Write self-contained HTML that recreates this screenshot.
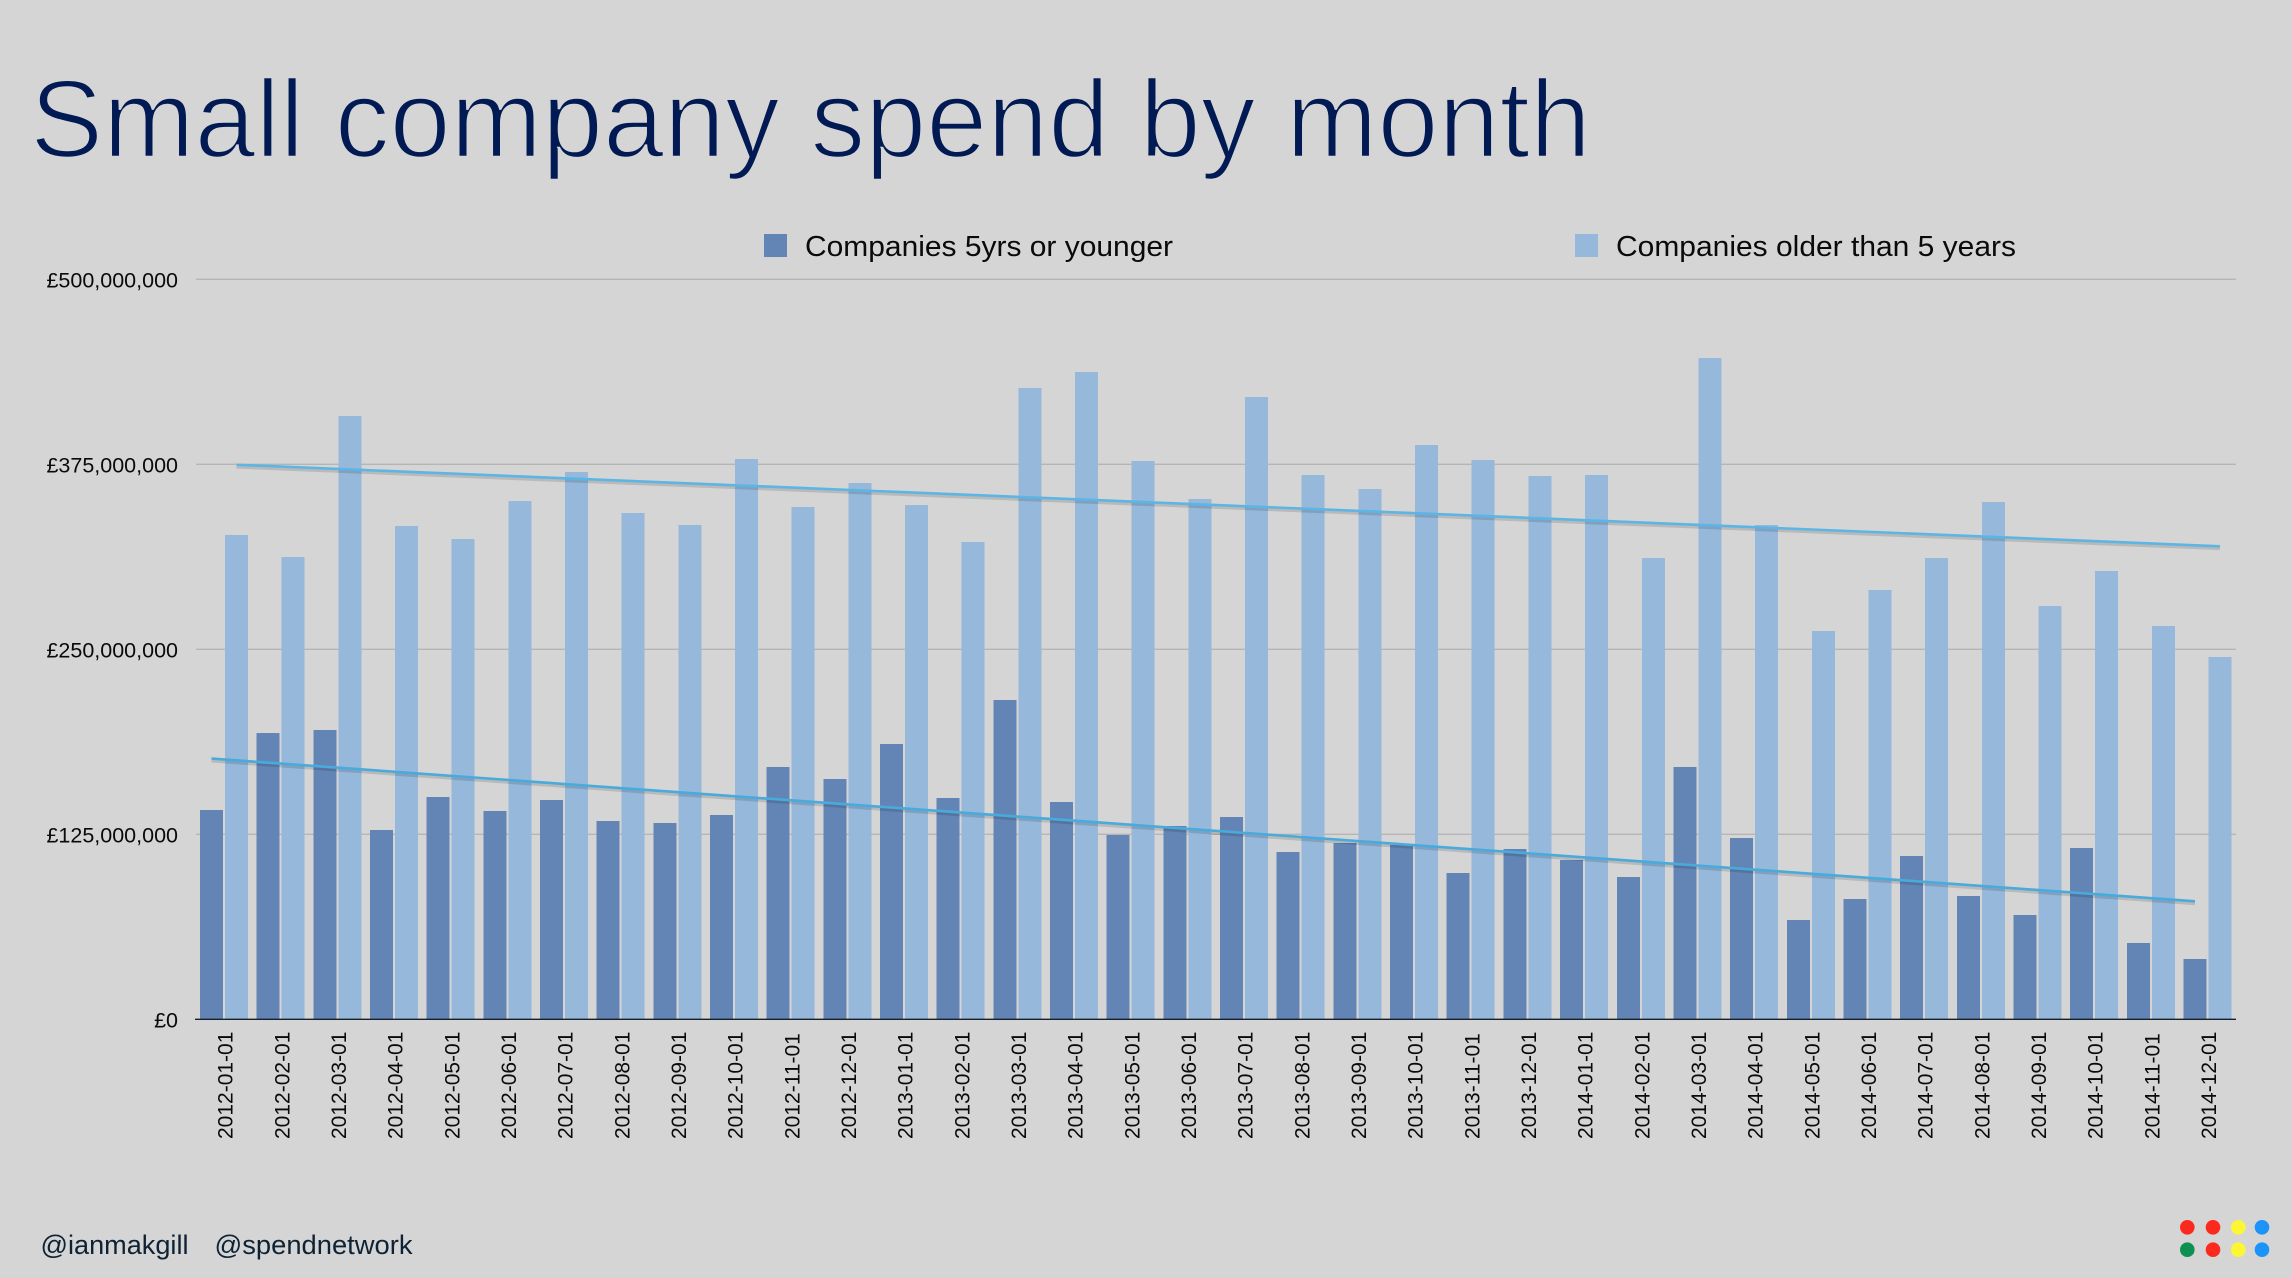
<!DOCTYPE html>
<html lang="en">
<head>
<meta charset="utf-8">
<title>Small company spend by month</title>
<style>
html,body{margin:0;padding:0;background:#d5d5d5;}
body{width:2292px;height:1278px;overflow:hidden;}
svg{display:block;font-family:"Liberation Sans",sans-serif;}
</style>
</head>
<body>
<svg id="chart" xmlns="http://www.w3.org/2000/svg" width="2292" height="1278" viewBox="0 0 2292 1278">
  <rect x="0" y="0" width="2292" height="1278" fill="#d5d5d5"/>
  <text x="30" y="157" font-size="110" fill="#011a54" stroke="#d5d5d5" stroke-width="2.6" style="paint-order:fill stroke" textLength="1561" lengthAdjust="spacingAndGlyphs">Small company spend by month</text>

  <g>
    <rect x="764" y="234" width="23" height="23" fill="#6285b5"/>
    <text x="805" y="256" font-size="29" fill="#0a0a0a" textLength="368" lengthAdjust="spacingAndGlyphs">Companies 5yrs or younger</text>
    <rect x="1575" y="234" width="23" height="23" fill="#96b8db"/>
    <text x="1616" y="256" font-size="29" fill="#0a0a0a" textLength="400" lengthAdjust="spacingAndGlyphs">Companies older than 5 years</text>
  </g>

  <g id="grid"></g>
  <g id="yaxis"></g>
  <g id="bars"></g>
  <g id="trends"></g>
  <g id="xaxis"></g>

  <text x="40.5" y="1254" font-size="27" fill="#0e2233" textLength="148" lengthAdjust="spacingAndGlyphs">@ianmakgill</text>
  <text x="214.5" y="1254" font-size="27" fill="#0e2233" textLength="198" lengthAdjust="spacingAndGlyphs">@spendnetwork</text>

  <g>
    <circle cx="2187.3" cy="1227.3" r="7.3" fill="#fc2a1e"/>
    <circle cx="2213" cy="1227.3" r="7.3" fill="#fc2a1e"/>
    <circle cx="2238.3" cy="1227.3" r="7.3" fill="#fdf733"/>
    <circle cx="2262" cy="1227.3" r="7.3" fill="#1c93f8"/>
    <circle cx="2187.3" cy="1249.7" r="7.3" fill="#0f9050"/>
    <circle cx="2213" cy="1249.7" r="7.3" fill="#fc2a1e"/>
    <circle cx="2238.3" cy="1249.7" r="7.3" fill="#fdf733"/>
    <circle cx="2262" cy="1249.7" r="7.3" fill="#1c93f8"/>
  </g>
</svg>
<script>
var categories = ["2012-01-01","2012-02-01","2012-03-01","2012-04-01","2012-05-01","2012-06-01","2012-07-01","2012-08-01","2012-09-01","2012-10-01","2012-11-01","2012-12-01","2013-01-01","2013-02-01","2013-03-01","2013-04-01","2013-05-01","2013-06-01","2013-07-01","2013-08-01","2013-09-01","2013-10-01","2013-11-01","2013-12-01","2014-01-01","2014-02-01","2014-03-01","2014-04-01","2014-05-01","2014-06-01","2014-07-01","2014-08-01","2014-09-01","2014-10-01","2014-11-01","2014-12-01"];
// Values in £ millions
var youngerSpend = [141.4,193.4,195.5,127.9,150.2,140.7,148.2,134,132.6,138,170.5,162.4,186,149.5,215.7,146.8,124.5,130.6,136.7,113,119.1,117.8,98.9,115.1,107.6,96.2,170.5,122.5,67.1,81.3,110.3,83.3,70.5,115.7,51.6,40.7];
var olderSpend = [327.2,312.4,407.6,333.3,324.5,350.2,369.8,342.1,334,378.6,346.1,362.4,347.5,322.5,426.6,437.4,377.2,351.6,420.5,367.8,358.3,388,377.9,367.1,367.8,311.7,446.8,334,262.4,290.1,311.7,349.5,279.3,302.9,265.7,244.8];
var yTickValues = [0,125,250,375,500];
var yTickLabels = ["£0","£125,000,000","£250,000,000","£375,000,000","£500,000,000"];

var NS = "http://www.w3.org/2000/svg";
var plotLeft = 195, plotRight = 2236, plotBottom = 1019.3, plotTop = 279.3, yMax = 500;
var band = 56.67;
var barWidth = 23;

function yScale(v) { return plotBottom - (v / yMax) * (plotBottom - plotTop); }
function darkX(i) { return plotLeft + i * band + 5; }
function lightX(i) { return darkX(i) + barWidth + 2; }
function make(tag, attrs, parent) {
  var el = document.createElementNS(NS, tag);
  for (var k in attrs) el.setAttribute(k, attrs[k]);
  parent.appendChild(el);
  return el;
}
function fit(values) {
  var n = values.length, sx = 0, sy = 0, sxx = 0, sxy = 0;
  for (var i = 0; i < n; i++) { sx += i; sy += values[i]; sxx += i * i; sxy += i * values[i]; }
  var m = (n * sxy - sx * sy) / (n * sxx - sx * sx);
  return { m: m, c: (sy - m * sx) / n };
}

var gridG = document.getElementById("grid");
var yG = document.getElementById("yaxis");
var barsG = document.getElementById("bars");
var trendsG = document.getElementById("trends");
var xG = document.getElementById("xaxis");

yTickValues.forEach(function (v, i) {
  if (v !== 0) {
    var g = make("line", { x1: plotLeft + 1, x2: plotRight, y1: yScale(v), y2: yScale(v), stroke: "#b5b5b5", "stroke-width": 1.3 }, gridG);
    
    
  }
  var t = make("text", { x: 178, y: yScale(v) + 8.2, "text-anchor": "end", "font-size": 21.5, fill: "#0a0a0a" }, yG);
  t.textContent = yTickLabels[i];
  
  
});

categories.forEach(function (c, i) {
  var d = make("rect", { x: darkX(i), y: yScale(youngerSpend[i]), width: barWidth, height: plotBottom - yScale(youngerSpend[i]), fill: "#6285b5", "shape-rendering": "crispEdges" }, barsG);
  
  
  var l = make("rect", { x: lightX(i), y: yScale(olderSpend[i]), width: barWidth, height: plotBottom - yScale(olderSpend[i]), fill: "#96b8db", "shape-rendering": "crispEdges" }, barsG);
  
  

  var bx = plotLeft + i * band + 37.6;
  var t = make("text", { x: bx, y: 1139, "font-size": 21, fill: "#0a0a0a", transform: "rotate(-90 " + bx + " 1139)" }, xG);
  t.textContent = c;
  
  
});

function drawTrend(values, xFn, color, name) {
  var f = fit(values), last = values.length - 1;
  var x1 = xFn(0) + barWidth / 2, x2 = xFn(last) + barWidth / 2;
  var y1 = yScale(f.c), y2 = yScale(f.c + f.m * last);
  var s = make("line", { x1: x1, y1: y1 + 2.4, x2: x2, y2: y2 + 2.4, stroke: "#000", "stroke-opacity": 0.13, "stroke-width": 3 }, trendsG);
  
  
  var l = make("line", { x1: x1, y1: y1, x2: x2, y2: y2, stroke: color, "stroke-width": 2.6 }, trendsG);
  
  
}
drawTrend(olderSpend, lightX, "#5cb5e4", "trend-line-older");
drawTrend(youngerSpend, darkX, "#49aadc", "trend-line-younger");

var axis = make("line", { x1: plotLeft, x2: plotRight, y1: plotBottom, y2: plotBottom, stroke: "#15202b", "stroke-width": 1.4 }, xG);


</script>
</body>
</html>
